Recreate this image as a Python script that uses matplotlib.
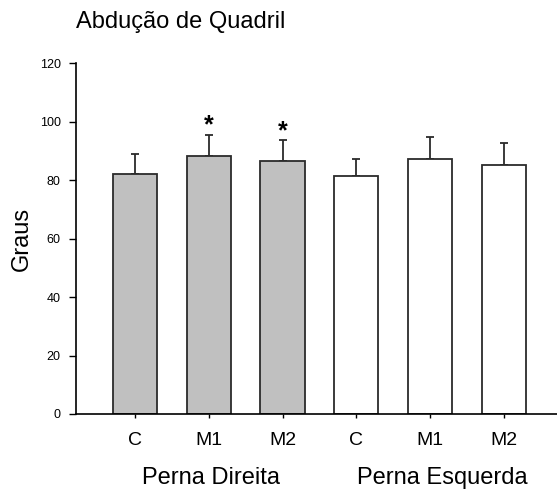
import matplotlib
matplotlib.use("Agg")
from matplotlib import pyplot

pyplot.rcParams['font.family'] = ['Liberation Sans', 'DejaVu Sans']

labels = ["C", "M1", "M2", "C", "M1", "M2"]
means = [82.0, 88.3, 86.6, 81.5, 87.2, 85.2]
sds = [7.0, 7.3, 7.0, 5.8, 7.5, 7.6]
fills = ["#c0c0c0", "#c0c0c0", "#c0c0c0", "white", "white", "white"]
starred = [False, True, True, False, False, False]
groups = ["Perna Direita", "Perna Esquerda"]

fig = pyplot.figure(figsize=(5.57, 4.94), dpi=100)
ax = fig.add_axes([0.1364, 0.162, 0.8636, 0.71])

x = list(range(len(means)))
ax.bar(x, means, width=0.6, color=fills, edgecolor="#2b2b2b", linewidth=1.3, zorder=2)
ax.errorbar(x, means, yerr=[[0] * len(sds), sds], fmt="none", ecolor="#2b2b2b",
            elinewidth=1.3, capsize=3, capthick=1.3, zorder=1)

for i, s in enumerate(starred):
    if s:
        ax.text(i, means[i] + sds[i] - 1.0, "*", ha="center", va="bottom",
                fontsize=18, fontweight="bold")

ax.set_xlim(-0.8, 5.72)
ax.set_ylim(0, 120)
ax.set_yticks(range(0, 121, 20))
ax.tick_params(axis="y", labelsize=9, length=5, width=1, direction="out", pad=6)
ax.set_xticks(x)
ax.set_xticklabels(labels)
ax.tick_params(axis="x", labelsize=14, length=3, width=1, direction="out", pad=10)

for side in ["top", "right"]:
    ax.spines[side].set_visible(False)
ax.spines["left"].set_linewidth(1.2)
ax.spines["bottom"].set_linewidth(1.2)

ax.set_ylabel("Graus", fontsize=17)
ax.yaxis.set_label_coords(-0.090, 0.5)

fig.text(0.1364, 0.955, "Abdução de Quadril", fontsize=17, ha="left", va="center")
fig.text(211 / 557, 1 - 478 / 494, groups[0], fontsize=17, ha="center", va="center")
fig.text(442 / 557, 1 - 478 / 494, groups[1], fontsize=17, ha="center", va="center")

fig.savefig("out.png", dpi=100)
